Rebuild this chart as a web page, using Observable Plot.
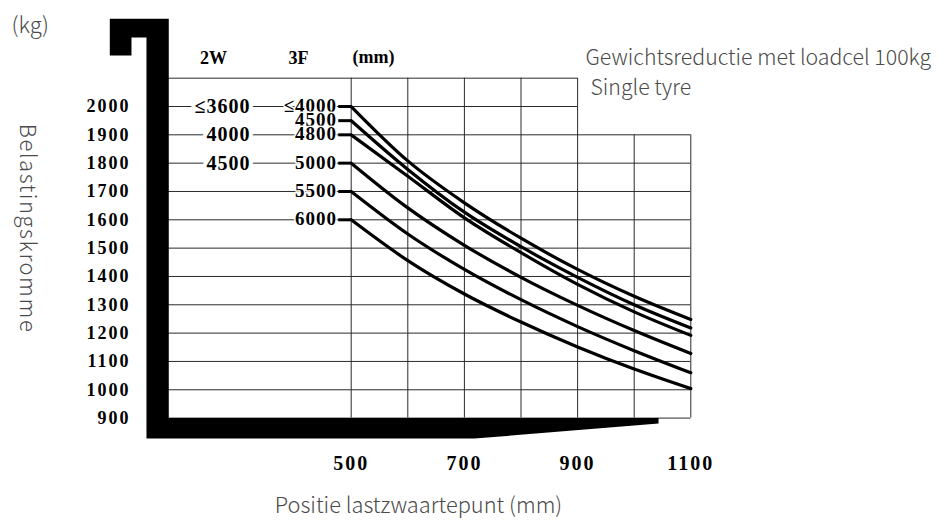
<!DOCTYPE html>
<html><head><meta charset="utf-8">
<script src="https://cdn.jsdelivr.net/npm/d3@7"></script>
<script src="https://cdn.jsdelivr.net/npm/@observablehq/plot@0.6"></script>
<style>
body{margin:0;background:#fff}
.dig text{letter-spacing:2px}
.lab text{letter-spacing:1px}
.spaced text{letter-spacing:1.5px}
</style></head><body><div id="chart"></div>
<script>
// load centre positions (mm)
const loadCentres = [500, 600, 700, 800, 900, 1000, 1100];
// lift heights, triple mast (3F) and duplex (2W)
const heights3F = ["≤4000", "4500", "4800", "5000", "5500", "6000"];
const heights2W = ["≤3600", "4000", "4500"];
// capacity (kg) per lift height
const cap4000 = [2000, 1808, 1660, 1535, 1425, 1330, 1248];
const cap4500 = [1950, 1778, 1627, 1505, 1397, 1300, 1218];
const cap4800 = [1900, 1754, 1607, 1484, 1372, 1275, 1192];
const cap5000 = [1800, 1642, 1510, 1397, 1298, 1209, 1128];
const cap5500 = [1700, 1550, 1425, 1318, 1223, 1138, 1060];
const cap6000 = [1600, 1456, 1338, 1239, 1151, 1073, 1004];
const yTicks = [900, 1000, 1100, 1200, 1300, 1400, 1500, 1600, 1700, 1800, 1900, 2000];
const xTicks = [500, 700, 900, 1100];
const gridRowsFull = [900, 1000, 1100, 1200, 1300, 1400, 1500, 1600, 1700, 1800, 1900];
const gridRowsTop = [2000, 2100];
const gridColsFull = [500, 600, 700, 800, 900];
const gridColsLow = [1000, 1100];

const seriesCaps = [cap4000, cap4500, cap4800, cap5000, cap5500, cap6000];
const curves = seriesCaps.flatMap((caps, i) =>
  caps.map((c, j) => ({series: heights3F[i], x: loadCentres[j], y: c})));
const starts = seriesCaps.map((caps, i) => ({label: heights3F[i], y: caps[0]}));
const starts2W = [cap4000, cap4800, cap5000].map((caps, i) => ({label: heights2W[i], y: caps[0]}));

const frameShape = [
  [73.5, 2309.6], [177.7, 2309.6], [177.7, 900], [1043, 900], [1043, 880.9],
  [717.8, 827.9], [138.3, 827.9], [138.3, 2243.6], [111.8, 2243.6], [111.8, 2180], [73.5, 2180]
];

const serif = "'Liberation Serif', 'DejaVu Serif', serif";
const sans = "'Noto Sans CJK SC', 'Noto Sans', sans-serif";
const grey = "#4a4a4a";
const gridStroke = "#2a2a2a";

const chart = Plot.plot({
  width: 945, height: 522, margin: 0,
  x: {domain: [500, 1100], range: [350.7, 690.3], axis: null},
  y: {domain: [900, 2000], range: [417.6, 106], axis: null},
  style: {background: "#fff"},
  marks: [
    // grid
    Plot.ruleY(gridRowsFull, {x1: 177.7, x2: 1100, stroke: gridStroke, strokeWidth: 1}),
    Plot.ruleY(gridRowsTop, {x1: 177.7, x2: 900, stroke: gridStroke, strokeWidth: 1}),
    Plot.ruleX(gridColsFull, {y1: 900, y2: 2100, stroke: gridStroke, strokeWidth: 1}),
    Plot.ruleX(gridColsLow, {y1: 900, y2: 1900, stroke: gridStroke, strokeWidth: 1}),
    // black frame
    Plot.line(frameShape, {x: d => d[0], y: d => d[1], fill: "black", stroke: "none"}),
    // table headers
    Plot.text(["2W", "3F", "(mm)"], {x: [256.8, 406.9, 539.4], y: [2169, 2169, 2175], text: d => d,
      fontFamily: serif, fontWeight: "bold", fontSize: 18, fill: "black"}),
    // 2W labels
    Plot.text(starts2W, {x: 322, y: "y", text: "label", textAnchor: "end", fontFamily: serif,
      fontWeight: "bold", fontSize: 20, fill: "black", stroke: "white", strokeWidth: 8, className: "lab"}),
    // 3F labels
    Plot.text(starts, {x: 476, y: "y", dy: [0, 0, 3, 0, 0, 0], text: "label", textAnchor: "end", fontFamily: serif,
      fontWeight: "bold", fontSize: 19, fill: "black", stroke: "white", strokeWidth: 3, className: "lab"}),
    // stubs
    Plot.ruleY(starts, {y: "y", x1: 478, x2: 500, stroke: "black", strokeWidth: 3}),
    // curves
    Plot.line(curves, {x: "x", y: "y", z: "series", curve: "monotone-x", stroke: "black", strokeWidth: 3.2}),
    // y tick labels
    Plot.text(yTicks, {x: 110, y: d => d, text: d => String(d), textAnchor: "end",
      fontFamily: serif, fontWeight: "bold", fontSize: 18, fill: "black", className: "dig"}),
    // x tick labels
    Plot.text(xTicks, {x: d => d, y: 900, dy: 45, text: d => String(d),
      fontFamily: serif, fontWeight: "bold", fontSize: 20, fill: "black", className: "dig"}),
    // titles
    Plot.text(["(kg)"], {frameAnchor: "top-left", dx: 11, dy: 25, text: d => d, textAnchor: "start", lineAnchor: "middle",
      fontFamily: sans, fontWeight: 300, fontSize: 22, fill: grey}),
    Plot.text(["Belastingskromme"], {frameAnchor: "top-left", dx: 27, dy: 228, text: d => d, rotate: 90,
      textAnchor: "middle", lineAnchor: "middle", className: "spaced",
      fontFamily: sans, fontWeight: 300, fontSize: 22, fill: grey}),
    Plot.text(["Positie lastzwaartepunt (mm)"], {frameAnchor: "top-left", dx: 418, dy: 506, text: d => d,
      textAnchor: "middle", lineAnchor: "middle",
      fontFamily: sans, fontWeight: 300, fontSize: 21.8, fill: grey}),
    Plot.text(["Gewichtsreductie met loadcel 100kg"], {frameAnchor: "top-left", dx: 585, dy: 58, text: d => d,
      textAnchor: "start", lineAnchor: "middle", fontFamily: sans, fontWeight: 300, fontSize: 21.3, fill: grey}),
    Plot.text(["Single tyre"], {frameAnchor: "top-left", dx: 590, dy: 88, text: d => d,
      textAnchor: "start", lineAnchor: "middle", fontFamily: sans, fontWeight: 300, fontSize: 21.3, fill: grey})
  ]
});
document.getElementById("chart").appendChild(chart);
</script></body></html>
